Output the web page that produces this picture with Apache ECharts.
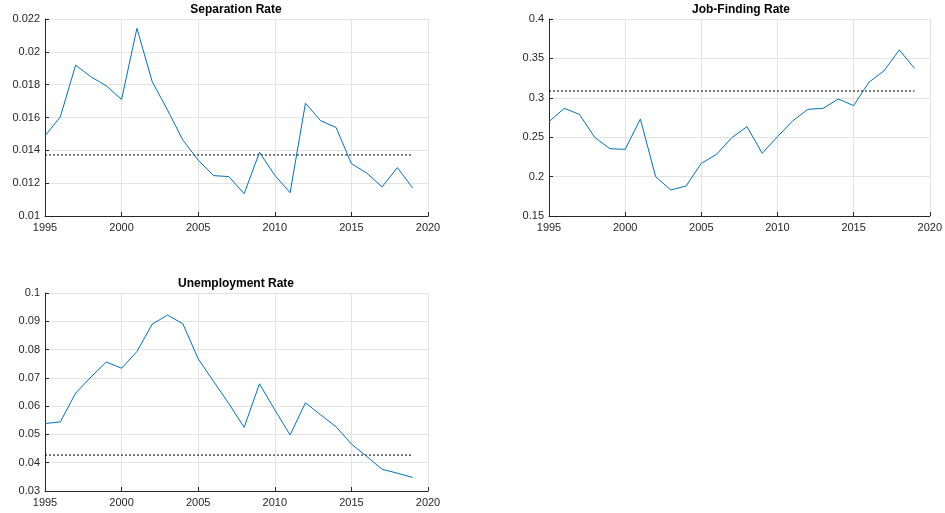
<!DOCTYPE html>
<html>
<head>
<meta charset="utf-8">
<script src="https://cdn.jsdelivr.net/npm/echarts@6/dist/echarts.min.js"></script>
<style>
  html, body { margin: 0; padding: 0; background: #fff; }
  #chart { width: 945px; height: 513px; }
</style>
</head>
<body>
<div id="chart"></div>
<script>
// Annual labour-market rates, 1995-2019
const years = [1995, 1996, 1997, 1998, 1999, 2000, 2001, 2002, 2003, 2004, 2005, 2006,
  2007, 2008, 2009, 2010, 2011, 2012, 2013, 2014, 2015, 2016, 2017, 2018, 2019];

const separationRate = [0.01488, 0.01604, 0.01919, 0.01848, 0.01793, 0.01710, 0.02143,
  0.01818, 0.01645, 0.01462, 0.01340, 0.01246, 0.01240, 0.01136, 0.01388, 0.01248,
  0.01142, 0.01687, 0.01580, 0.01539, 0.01319, 0.01262, 0.01177, 0.01295, 0.01171];

const jobFindingRate = [0.2697, 0.2866, 0.2790, 0.2498, 0.2354, 0.2346, 0.2731, 0.1999,
  0.1830, 0.1881, 0.2168, 0.2283, 0.2494, 0.2634, 0.2296, 0.2507, 0.2706, 0.2854,
  0.2866, 0.2985, 0.2900, 0.3196, 0.3344, 0.3607, 0.3374];

const unemploymentRate = [0.05385, 0.05444, 0.0646, 0.0703, 0.0756, 0.0734, 0.0793, 0.0890,
  0.0922, 0.0891, 0.0767, 0.0688, 0.0609, 0.0525, 0.0679, 0.0587, 0.0498, 0.0612,
  0.0569, 0.0527, 0.0466, 0.0422, 0.0377, 0.0363, 0.0348];

// Long-run averages (dotted reference lines)
const separationMean = 0.01372;
const jobFindingMean = 0.3086;
const unemploymentMean = 0.0427;

const titles = ['Separation Rate', 'Job-Finding Rate', 'Unemployment Rate'];
const xTicks = { min: 1995, max: 2020, interval: 5 };
const yScales = [
  { min: 0.010, max: 0.022, interval: 0.002 },
  { min: 0.15, max: 0.40, interval: 0.05 },
  { min: 0.03, max: 0.10, interval: 0.01 }
];

const panels = [
  { values: separationRate, mean: separationMean },
  { values: jobFindingRate, mean: jobFindingMean },
  { values: unemploymentRate, mean: unemploymentMean }
];

const grids = [
  { left: 45, right: 517, top: 19, bottom: 297 },
  { left: 549, right: 12, top: 19, bottom: 297 },
  { left: 45, right: 517, top: 293, bottom: 22 }
];

const axisColor = '#262626';
const gridColor = '#e3e3e3';
const fontFamily = '"Liberation Sans", Arial, Helvetica, sans-serif';

const xAxes = grids.map((g, i) => ({
  type: 'value',
  gridIndex: i,
  min: xTicks.min,
  max: xTicks.max,
  interval: xTicks.interval,
  axisLine: { show: true, onZero: false, lineStyle: { color: axisColor, width: 1 } },
  axisTick: { show: true, inside: true, length: 4, lineStyle: { color: axisColor } },
  axisLabel: {
    color: axisColor, fontSize: 11, fontFamily, margin: 6,
    showMinLabel: true, showMaxLabel: true,
    formatter: v => String(Math.round(v))
  },
  splitLine: { show: true, lineStyle: { color: gridColor, width: 1 } }
}));

const yAxes = yScales.map((s, i) => ({
  type: 'value',
  gridIndex: i,
  min: s.min,
  max: s.max,
  interval: s.interval,
  axisLine: { show: true, onZero: false, lineStyle: { color: axisColor, width: 1 } },
  axisTick: { show: true, inside: true, length: 4, lineStyle: { color: axisColor } },
  axisLabel: {
    color: axisColor, fontSize: 11, fontFamily, margin: 5,
    formatter: v => String(parseFloat(v.toFixed(4)))
  },
  splitLine: { show: true, lineStyle: { color: gridColor, width: 1 } }
}));

const series = [];
panels.forEach((p, i) => {
  series.push({
    type: 'line',
    xAxisIndex: i,
    yAxisIndex: i,
    data: years.map((y, k) => [y, p.values[k]]),
    showSymbol: false,
    symbol: 'none',
    lineStyle: { color: '#0072BD', width: 1 },
    z: 3,
    animation: false
  });
  series.push({
    type: 'line',
    xAxisIndex: i,
    yAxisIndex: i,
    data: [[years[0], p.mean], [years[years.length - 1], p.mean]],
    symbol: 'none',
    lineStyle: { color: '#000000', width: 1, type: [2, 2] },
    z: 2,
    animation: false
  });
});

const titleCenters = [
  { x: 236, y: 4 },
  { x: 741, y: 4 },
  { x: 236, y: 278 }
];

const chart = echarts.init(document.getElementById('chart'), null, { renderer: 'canvas' });
chart.setOption({
  animation: false,
  backgroundColor: '#ffffff',
  title: titles.map((t, i) => ({
    text: t,
    left: titleCenters[i].x,
    top: titleCenters[i].y,
    textAlign: 'center',
    padding: 0,
    textStyle: { fontSize: 12, fontWeight: 'bold', color: '#000', fontFamily }
  })),
  grid: grids,
  xAxis: xAxes,
  yAxis: yAxes,
  series
});
</script>
</body>
</html>
